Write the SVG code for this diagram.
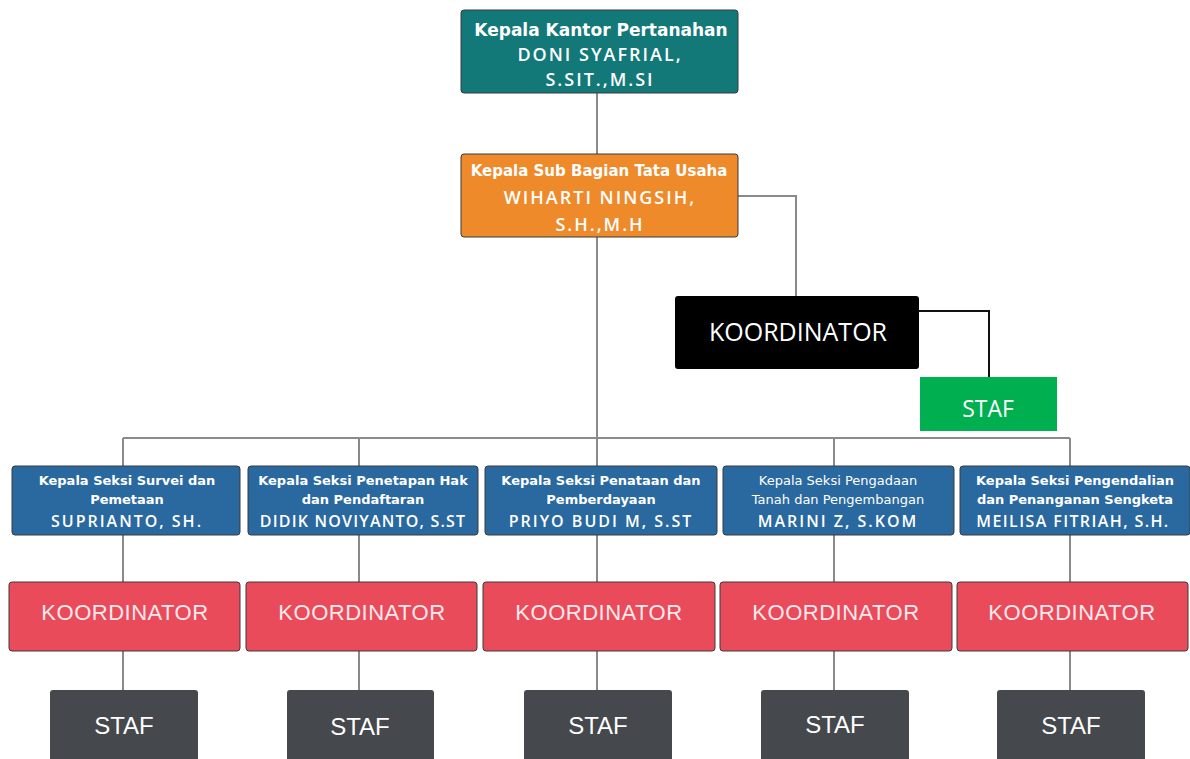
<svg xmlns="http://www.w3.org/2000/svg" width="1190" height="759" viewBox="0 0 1190 759">
<style>
.ln{fill:none;stroke:#8a8a8a;stroke-width:2}
.lk{fill:none;stroke:#111;stroke-width:2}
.bx{stroke:#3a3a3a;stroke-width:1}
.t{font-family:"DejaVu Sans","Liberation Sans",sans-serif;font-weight:bold;fill:#fff;text-anchor:middle}
.n{font-family:"Open Sans","Liberation Sans",sans-serif;font-weight:600;fill:#fff;text-anchor:middle;letter-spacing:2px}
.k{font-family:"Liberation Sans",Arial,sans-serif;fill:#fbe9ec;text-anchor:middle;font-size:22px;letter-spacing:0.5px}
.f{font-family:"Liberation Sans",Arial,sans-serif;fill:#fff;text-anchor:middle;font-size:24px}
.s{font-family:"Open Sans","Liberation Sans",sans-serif;fill:#fff;text-anchor:middle;font-size:23px}
</style>
<rect width="1190" height="759" fill="#fff"/>
<g id="connectors">
<path class="ln" d="M597 93V154M597 237V438M738 196H796V296M123 438H1070M123 438V466M359 438V466M597 438V466M834 438V466M1070 438V466"/>
<path class="ln" d="M123 535V582M359 535V582M597 535V582M834 535V582M1070 535V582M123 651V690M359 651V690M597 651V690M834 651V690M1070 651V690"/>
<path class="lk" d="M919 311H989V377"/>
</g>
<g id="kepala-kantor">
<rect class="bx" x="461" y="10" width="277" height="83" rx="3" fill="#127878"/>
<text class="t" x="601" y="36" font-size="17">Kepala Kantor Pertanahan</text>
<text class="n" x="600" y="61" font-size="18">DONI SYAFRIAL,</text>
<text class="n" x="600" y="86" font-size="18">S.SIT.,M.SI</text>
</g>
<g id="kasubag">
<rect class="bx" x="461" y="154" width="277" height="83" rx="3" fill="#ef8a2b"/>
<text class="t" x="599" y="176" font-size="15">Kepala Sub Bagian Tata Usaha</text>
<text class="n" x="600" y="204" font-size="18">WIHARTI NINGSIH,</text>
<text class="n" x="600" y="231" font-size="18">S.H.,M.H</text>
</g>
<g id="koordinator-tu">
<rect x="675" y="296" width="244" height="73" rx="3" fill="#000"/>
<text class="s" x="798" y="341" style="font-size:25px">KOORDINATOR</text>
</g>
<g id="staf-tu">
<rect x="920" y="377" width="137" height="54" fill="#00b050"/>
<text class="s" x="988" y="417">STAF</text>
</g>
<g id="seksi-1">
<rect class="bx" x="12" y="466" width="228" height="69" rx="3" fill="#2a69a0"/>
<text class="t" x="127" y="485" font-size="13">Kepala Seksi Survei dan</text>
<text class="t" x="127" y="504" font-size="13">Pemetaan</text>
<text class="n" x="127" y="527" font-size="16">SUPRIANTO, SH.</text>
</g>
<g id="seksi-2">
<rect class="bx" x="248" y="466" width="230" height="69" rx="3" fill="#2a69a0"/>
<text class="t" x="363" y="485" font-size="13">Kepala Seksi Penetapan Hak</text>
<text class="t" x="363" y="504" font-size="13">dan Pendaftaran</text>
<text class="n" x="363" y="527" font-size="16" style="letter-spacing:1.2px">DIDIK NOVIYANTO, S.ST</text>
</g>
<g id="seksi-3">
<rect class="bx" x="485" y="466" width="232" height="69" rx="3" fill="#2a69a0"/>
<text class="t" x="601" y="485" font-size="13">Kepala Seksi Penataan dan</text>
<text class="t" x="601" y="504" font-size="13">Pemberdayaan</text>
<text class="n" x="601" y="527" font-size="16">PRIYO BUDI M, S.ST</text>
</g>
<g id="seksi-4">
<rect class="bx" x="723" y="466" width="231" height="69" rx="3" fill="#2a69a0"/>
<text class="t" x="838" y="485" font-size="13" style="font-weight:normal">Kepala Seksi Pengadaan</text>
<text class="t" x="838" y="504" font-size="13" style="font-weight:normal">Tanah dan Pengembangan</text>
<text class="n" x="838" y="527" font-size="16">MARINI Z, S.KOM</text>
</g>
<g id="seksi-5">
<rect class="bx" x="960" y="466" width="230" height="69" rx="3" fill="#2a69a0"/>
<text class="t" x="1075" y="485" font-size="13">Kepala Seksi Pengendalian</text>
<text class="t" x="1075" y="504" font-size="13">dan Penanganan Sengketa</text>
<text class="n" x="1073" y="527" font-size="16" style="letter-spacing:1.4px">MEILISA FITRIAH, S.H.</text>
</g>
<g id="koordinator-1"><rect class="bx" x="9" y="582" width="231" height="69" rx="3" fill="#e94b5b"/><text class="k" x="125" y="620">KOORDINATOR</text></g>
<g id="koordinator-2"><rect class="bx" x="246" y="582" width="231" height="69" rx="3" fill="#e94b5b"/><text class="k" x="362" y="620">KOORDINATOR</text></g>
<g id="koordinator-3"><rect class="bx" x="483" y="582" width="232" height="69" rx="3" fill="#e94b5b"/><text class="k" x="599" y="620">KOORDINATOR</text></g>
<g id="koordinator-4"><rect class="bx" x="720" y="582" width="232" height="69" rx="3" fill="#e94b5b"/><text class="k" x="836" y="620">KOORDINATOR</text></g>
<g id="koordinator-5"><rect class="bx" x="957" y="582" width="231" height="69" rx="3" fill="#e94b5b"/><text class="k" x="1072" y="620">KOORDINATOR</text></g>
<g id="staf-1"><rect x="50" y="690" width="148" height="75" rx="3" fill="#45484c"/><text class="f" x="124" y="734">STAF</text></g>
<g id="staf-2"><rect x="287" y="690" width="147" height="75" rx="3" fill="#45484c"/><text class="f" x="360" y="735">STAF</text></g>
<g id="staf-3"><rect x="524" y="690" width="148" height="75" rx="3" fill="#45484c"/><text class="f" x="598" y="734">STAF</text></g>
<g id="staf-4"><rect x="761" y="690" width="148" height="75" rx="3" fill="#45484c"/><text class="f" x="835" y="733">STAF</text></g>
<g id="staf-5"><rect x="997" y="690" width="148" height="75" rx="3" fill="#45484c"/><text class="f" x="1071" y="734">STAF</text></g>
</svg>
